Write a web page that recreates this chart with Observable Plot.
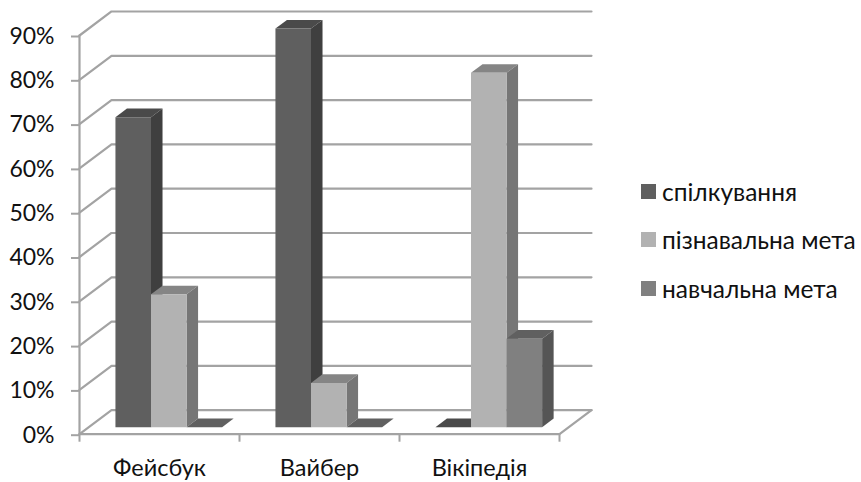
<!DOCTYPE html>
<html><head><meta charset="utf-8">
<script src="https://cdn.jsdelivr.net/npm/d3@7"></script>
<script src="https://cdn.jsdelivr.net/npm/@observablehq/plot@0.6"></script>
<style>
html,body{margin:0;padding:0;background:#fff;overflow:hidden}
#wrap{position:relative;width:861px;height:482px}
#legend{position:absolute;left:641px;top:167px;font:24.5px "Lato",sans-serif;color:#111}
#legend div{display:flex;align-items:center;height:48.5px;white-space:nowrap}
#legend i{display:block;width:15px;height:15px;margin-right:6px}
</style></head><body><div id="wrap"><div id="legend"></div></div>
<script>
const categories = ["Фейсбук", "Вайбер", "Вікіпедія"];
const seriesNames = ["спілкування", "пізнавальна мета", "навчальна мета"];
const spilkuvannya = [0.7, 0.9, 0];
const piznavalna = [0.3, 0.1, 0.8];
const navchalna = [0, 0, 0.2];
const yTicks = [0, 0.1, 0.2, 0.3, 0.4, 0.5, 0.6, 0.7, 0.8, 0.9];
const frontColors = ["#5f5f5f", "#b2b2b2", "#808080"];
const sideColors = ["#3f3f3f", "#767676", "#555555"];
const topColors = ["#4a4a4a", "#858585", "#606060"];

const series = [spilkuvannya, piznavalna, navchalna];
const depthX = 0.2, depthY = 0.0542;       // floor depth, in data units
const barFront = 0.29, barBack = 0.65;     // bar depth within the floor
const barW = 2 / 9, gap = 1 / 6;
const P = (x, v, d) => ({x: x + d * depthX, y: v + d * depthY});

const faces = [];
const face = (id, fill, pts) => pts.forEach(p => faces.push({...p, id, fill}));
categories.forEach((c, g) => series.forEach((vals, s) => {
  const v = vals[g], x0 = g + gap + s * barW, x1 = x0 + barW, k = `${g}-${s}`;
  face(k + "t", topColors[s], [P(x0, v, barFront), P(x1, v, barFront), P(x1, v, barBack), P(x0, v, barBack)]);
  face(k + "s", sideColors[s], [P(x1, 0, barFront), P(x1, v, barFront), P(x1, v, barBack), P(x1, 0, barBack)]);
  face(k + "f", frontColors[s], [P(x0, 0, barFront), P(x1, 0, barFront), P(x1, v, barFront), P(x0, v, barFront)]);
}));

const n = categories.length;
const grid = [];
yTicks.forEach(t => {
  [P(0, t, 0), P(0, t, 1), P(n, t, 1)].forEach(p => grid.push({...p, id: t}));
});
const floor = [P(0, 0, 0), P(n, 0, 0), P(n, 0, 1)];
const wall = [P(0, 0, 0), P(0, 0.9, 0)];

const grey = "#a3a3a3";
const font = '"Lato",sans-serif';
const chart = Plot.plot({
  width: 861, height: 482,
  marginLeft: 79, marginRight: 302, marginTop: 35, marginBottom: 48.3,
  style: {fontFamily: font, fontSize: "23px", background: "#fff", color: "#111"},
  x: {domain: [0, n], axis: null},
  y: {domain: [0, 0.9], axis: null},
  marks: [
    Plot.line(grid, {x: "x", y: "y", z: "id", stroke: grey, strokeWidth: 2.2}),
    Plot.line(floor, {x: "x", y: "y", stroke: grey, strokeWidth: 2.2}),
    Plot.line(wall, {x: "x", y: "y", stroke: grey, strokeWidth: 2.2}),
    Plot.axisY({ticks: yTicks, tickFormat: d3.format(".0%"), tickSize: 8, tickPadding: 17, dy: 1, stroke: grey, strokeWidth: 2, fill: "#111", fontSize: 23, label: null, anchor: "left"}),
    Plot.axisX({ticks: d3.range(n + 1), tickFormat: () => "", tickSize: 8, stroke: grey, strokeWidth: 2, label: null, anchor: "bottom"}),
    Plot.axisX({ticks: categories.map((c, i) => i + 0.5), tickFormat: d => categories[d - 0.5], tickSize: 0, tickPadding: 25, fill: "#111", fontSize: 23.5, label: null, anchor: "bottom"}),
    Plot.line(faces, {x: "x", y: "y", z: "id", fill: "fill", stroke: null})
  ]
});
const wrap = document.getElementById("wrap");
wrap.prepend(chart);
const legend = document.getElementById("legend");
seriesNames.forEach((name, i) => {
  const row = document.createElement("div");
  const sw = document.createElement("i");
  sw.style.background = frontColors[i];
  row.append(sw, name);
  legend.append(row);
});
</script></body></html>
